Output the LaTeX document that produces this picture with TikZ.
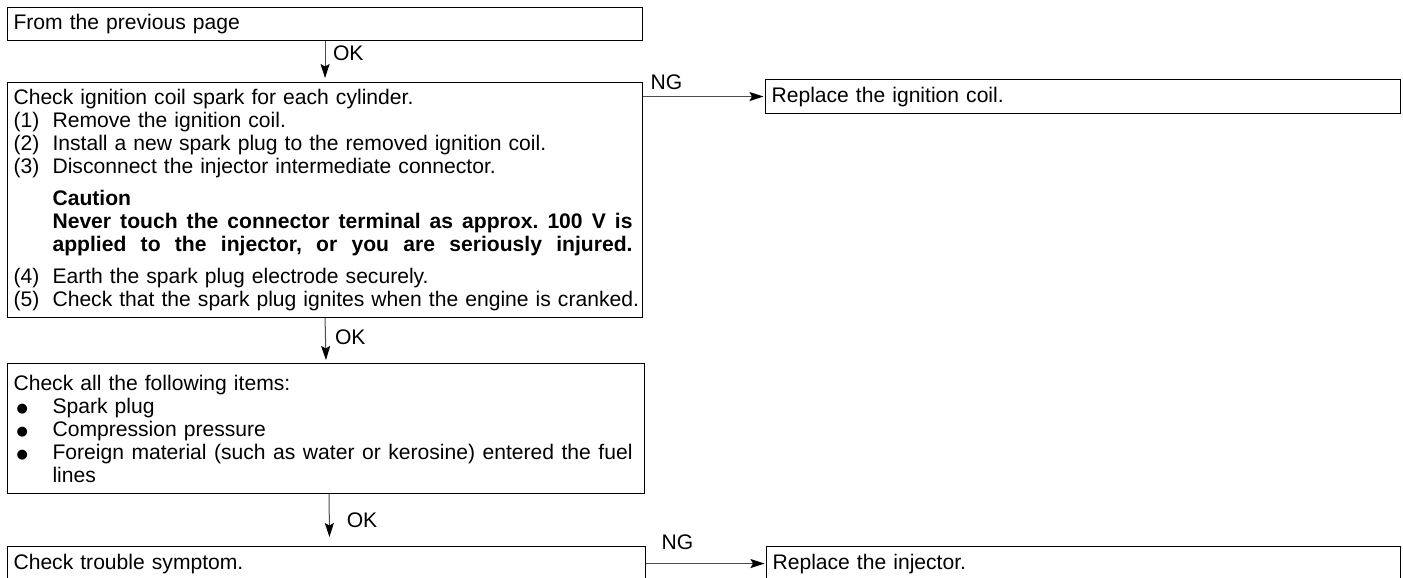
\documentclass[tikz,border=0pt]{standalone}
\usepackage{fontspec}
\setmainfont[WordSpace=1.6]{Liberation Sans}
\newfontfamily\dejavu{DejaVu Sans}
\usetikzlibrary{arrows.meta,calc}
\frenchspacing
\newcommand{\fs}{\fontsize{21.1}{23}\selectfont\frenchspacing}
\newcommand{\itm}[2]{\mbox{\makebox[39pt][l]{#1}#2}}
\newcommand{\blt}[1]{\mbox{\hspace*{3pt}\makebox[36pt][l]{\raisebox{1pt}{\dejavu\fontsize{13}{13}\selectfont ●}}#1}}
\newcommand{\jline}[2]{\makebox[#1][s]{\spaceskip=0.22em plus 1fil\relax #2}}
\tikzset{
  box/.style={draw=black, line width=1.1pt, anchor=north west, inner xsep=6pt,
    inner ysep=0pt, align=left, font=\fs, text width=#1},
  conn/.style={draw=black!70, line width=1pt,
    -{Stealth[color=black,length=14pt,width=9pt,inset=2.5pt]}},
  lab/.style={inner sep=0pt, font=\fs, text=black}
}
\begin{document}
\begin{tikzpicture}[x=1pt,y=-1pt]
\useasboundingbox (0,0) rectangle (1403,578);
\clip (0,0) rectangle (1403,578);

\node[box=623pt, minimum height=33pt] (b1) at (7,7) {From the previous page};

\node[box=623pt, minimum height=235pt] (b2) at (7,82) {%
\mbox{Check ignition coil spark for each cylinder.}\\
\itm{(1)}{Remove the ignition coil.}\\
\itm{(2)}{Install a new spark plug to the removed ignition coil.}\\
\itm{(3)}{Disconnect the injector intermediate connector.}\\[9pt]
\mbox{\hspace*{39pt}\textbf{Caution}}\\
\mbox{\hspace*{39pt}\textbf{\jline{580pt}{Never touch the connector terminal as approx. 100 V is}}}\\
\mbox{\hspace*{39pt}\textbf{\jline{580pt}{applied to the injector, or you are seriously injured.}}}\\[9pt]
\itm{(4)}{Earth the spark plug electrode securely.}\\
\itm{(5)}{Check that the spark plug ignites when the engine is cranked.}};

\node[box=625pt, minimum height=130pt] (b3) at (7,363) {%
\mbox{Check all the following items:}\\
\blt{Spark plug}\\
\blt{Compression pressure}\\
\blt{\jline{580pt}{Foreign material (such as water or kerosine) entered the fuel}}\\
\mbox{\hspace*{39pt}lines}};

\node[box=626pt, minimum height=34pt] (b4) at (7,546) {Check trouble symptom.};

\node[box=623pt, minimum height=34pt] (r1) at (765,79) {Replace the ignition coil.};
\node[box=622pt, minimum height=34pt] (r2) at (766,546) {Replace the injector.};

\draw[conn, shorten >=4pt] (b1.south) -- node[lab, anchor=west, pos=0.5, xshift=7.5pt, yshift=8.5pt] {OK} (b2.north);
\draw[conn, shorten >=3pt] (b2.south) -- node[lab, anchor=west, pos=0.5, xshift=9pt, yshift=3pt] {OK} (b3.north);
\draw[conn, shorten >=9pt] ($(b3.south)+(3,0)$) -- node[lab, anchor=west, pos=0.5, xshift=17pt, yshift=0pt] {OK} ($(b4.north)+(3,0)$);

\draw[conn, shorten >=1.5pt] (b2.east |- r1.west) -- node[lab, anchor=base west, pos=0, xshift=7pt, yshift=7pt] {NG} (r1.west);
\draw[conn, shorten >=1.5pt] (b4.east |- r2.west) -- node[lab, anchor=base west, pos=0, xshift=15pt, yshift=14pt] {NG} (r2.west);
\end{tikzpicture}
\end{document}
